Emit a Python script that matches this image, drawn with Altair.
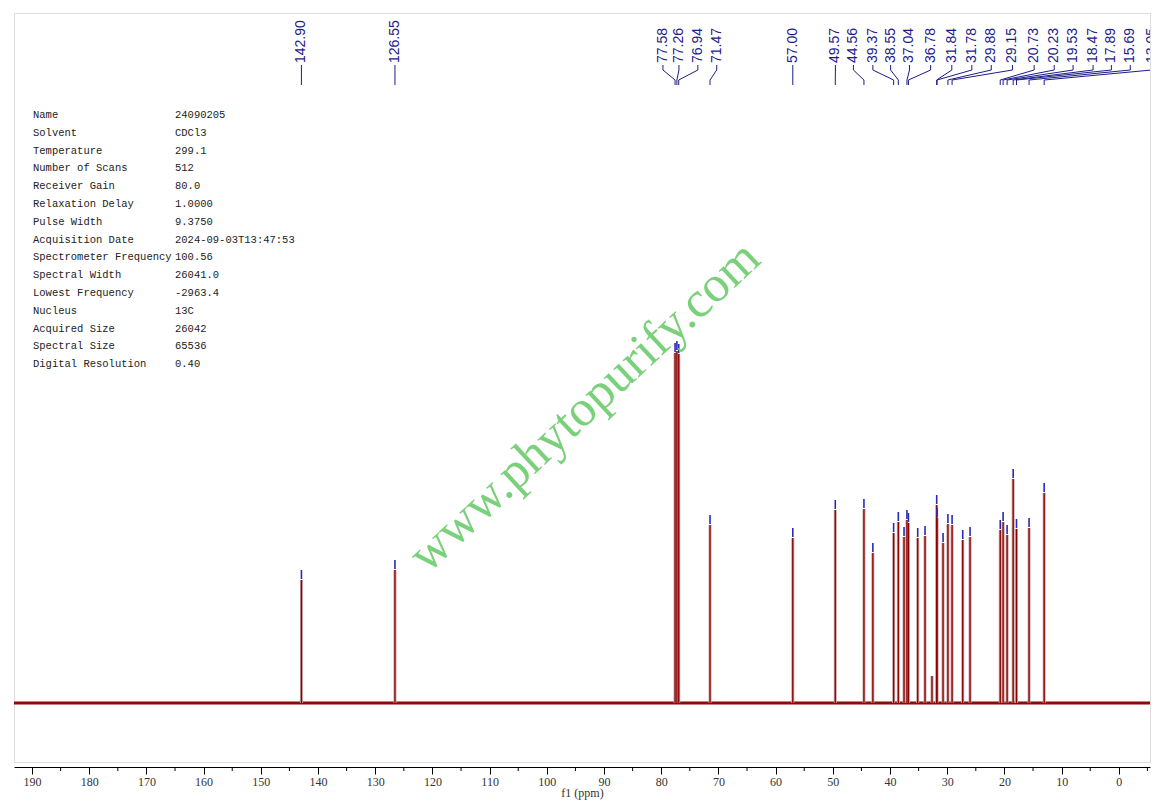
import altair as alt
import pandas as pd

# ---------------- data ----------------
# labelled peaks (ppm), their heights (arbitrary intensity units, baseline = 0)
label_ppm = [142.90, 126.55, 77.58, 77.26, 76.94, 71.47, 57.00, 49.57, 44.56,
             39.37, 38.55, 37.04, 36.78, 31.84, 31.78, 29.88, 29.15, 20.73,
             20.23, 19.53, 18.47, 17.89, 15.69, 13.05]
label_heights = [123, 133, 350, 352, 349, 178, 165, 193, 194,
                 170, 181, 183, 180, 198, 185, 179, 178, 173,
                 181, 168, 224, 174, 175, 210]
# where each peak label sits along the ppm axis (labels are spread apart)
label_anchor_ppm = [142.90, 126.55, 79.7, 76.9, 73.6, 70.3, 57.0, 49.55, 46.4,
                    43.0, 39.9, 36.6, 32.9, 29.2, 25.7, 22.3, 18.6, 14.8,
                    11.3, 8.0, 4.5, 1.3, -2.0, -5.8]
# other picked peaks without a visible label
other_ppm = [43.00, 37.55, 35.16, 33.88, 30.73, 27.29, 26.01]
other_heights = [150, 166, 165, 167, 160, 163, 166]
# small unpicked bump
small_ppm = [32.66]
small_heights = [27]

param_names = ["Name", "Solvent", "Temperature", "Number of Scans", "Receiver Gain",
               "Relaxation Delay", "Pulse Width", "Acquisition Date",
               "Spectrometer Frequency", "Spectral Width", "Lowest Frequency",
               "Nucleus", "Acquired Size", "Spectral Size", "Digital Resolution"]
param_values = ["24090205", "CDCl3", "299.1", "512", "80.0", "1.0000", "9.3750",
                "2024-09-03T13:47:53", "100.56", "26041.0", "-2963.4", "13C",
                "26042", "65536", "0.40"]

x_ticks = list(range(0, 191, 10))
x_minor = list(range(-5, 191, 10))
ppm_range = [-5.45, 193.15]
watermark = "www.phytopurify.com"

# ---------------- layout / style ----------------
W, H = 1136, 749
NAVY = "#1c1c8a"
MARK_BLUE = "#2a2ab4"

xscale = alt.Scale(domain=ppm_range, reverse=True, nice=False, zero=False)
yscale = alt.Scale(domain=[-59, 690], nice=False, zero=False)

axis = alt.Axis(values=x_ticks, tickSize=7, tickColor="black", tickWidth=1,
                domainColor="black", domainWidth=1, labelFont="Liberation Serif",
                labelFontSize=12, labelColor="#333333", labelPadding=2,
                title="f1 (ppm)", titleFont="Liberation Serif", titleFontSize=12,
                titleFontWeight="normal", titleColor="#333333", titlePadding=0,
                offset=5, grid=False, labelFlush=False)


def X(field):
    return alt.X(field, scale=xscale, axis=axis)


peaks = pd.DataFrame({
    "ppm": label_ppm + other_ppm + small_ppm,
    "h": label_heights + other_heights + small_heights,
    "picked": [1] * (len(label_ppm) + len(other_ppm)) + [0] * len(small_ppm),
})
peaks["zero"] = 0.0

base_df = pd.DataFrame({"x0": [ppm_range[0]], "x1": [ppm_range[1]], "y": [0.0]})

baseline = alt.Chart(base_df).mark_rule(color="#8b0a0a", strokeWidth=2.8).encode(
    x=X("x0:Q"),
    x2="x1:Q",
    y=alt.Y("y:Q", scale=yscale, axis=None),
)

halo = alt.Chart(peaks).mark_rule(color="#c9a3a3", strokeWidth=3).encode(
    x=X("ppm:Q"),
    y=alt.Y("zero:Q", scale=yscale, axis=None),
    y2="h:Q",
)
core = alt.Chart(peaks).mark_rule(color="#8b0000", strokeWidth=1.3).encode(
    x=X("ppm:Q"),
    y=alt.Y("zero:Q", scale=yscale, axis=None),
    y2="h:Q",
)

markers = alt.Chart(peaks).transform_filter("datum.picked == 1").transform_calculate(
    m0="datum.h + 1", m1="datum.h + 10"
).mark_rule(color=MARK_BLUE, strokeWidth=1.6).encode(
    x=X("ppm:Q"),
    y=alt.Y("m0:Q", scale=yscale, axis=None),
    y2="m1:Q",
)

# leader lines from label to peak (pixel heights inside the plot area)
rows = []
for i, (p, a) in enumerate(zip(label_ppm, label_anchor_ppm)):
    for k, (xx, py) in enumerate([(a, 52), (a, 57), (p, 67), (p, 72)]):
        rows.append({"lab": i, "ord": k, "ppm": xx, "py": py})
leader_df = pd.DataFrame(rows)
leaders = alt.Chart(leader_df).mark_line(color=NAVY, strokeWidth=1, clip=True).encode(
    x=X("ppm:Q"),
    y=alt.Y("py:Q", scale=None, axis=None),
    detail="lab:N",
    order="ord:Q",
)

lab_df = pd.DataFrame({"ppm": label_anchor_ppm,
                       "txt": [f"{v:.2f}" for v in label_ppm]})
labels = alt.Chart(lab_df).mark_text(
    angle=270, align="left", baseline="middle", font="Liberation Sans",
    fontSize=14, color=NAVY, clip=True
).encode(
    x=X("ppm:Q"),
    y=alt.value(50),
    text="txt:N",
)

tab_df = pd.DataFrame({"name": param_names, "val": param_values,
                       "row": list(range(len(param_names)))})
tab_names = alt.Chart(tab_df).transform_calculate(py="102 + datum.row * 17.8").mark_text(
    align="left", baseline="middle", font="Liberation Mono", fontSize=10.5, color="#222222"
).encode(x=alt.value(19), y=alt.Y("py:Q", scale=None, axis=None), text="name:N")
tab_vals = alt.Chart(tab_df).transform_calculate(py="102 + datum.row * 17.8").mark_text(
    align="left", baseline="middle", font="Liberation Mono", fontSize=10.5, color="#222222"
).encode(x=alt.value(161), y=alt.Y("py:Q", scale=None, axis=None), text="val:N")

wm = alt.Chart(pd.DataFrame({"t": [watermark]})).mark_text(
    angle=317, align="center", baseline="middle", font="Liberation Serif",
    fontSize=51, color="#7bd07b"
).encode(x=alt.value(571), y=alt.value(394), text="t:N")

minor_df = pd.DataFrame({"ppm": x_minor})
minor_df["p0"] = H + 5
minor_df["p1"] = H + 9
minor = alt.Chart(minor_df).mark_rule(color="black", strokeWidth=1).encode(
    x=X("ppm:Q"),
    y=alt.Y("p0:Q", scale=None, axis=None),
    y2="p1:Q",
)

chart = alt.layer(
    baseline, halo, core, markers, leaders, labels, tab_names, tab_vals, wm, minor
).resolve_scale(y="independent").properties(
    width=W, height=H,
    autosize=alt.AutoSizeParams(type="none"),
    padding={"left": 6, "top": 5, "right": 2, "bottom": 38},
).configure_view(stroke="#cccccc", strokeWidth=2).configure(background="white")

chart.save("out.html", embed_options={"renderer": "svg", "actions": False})
